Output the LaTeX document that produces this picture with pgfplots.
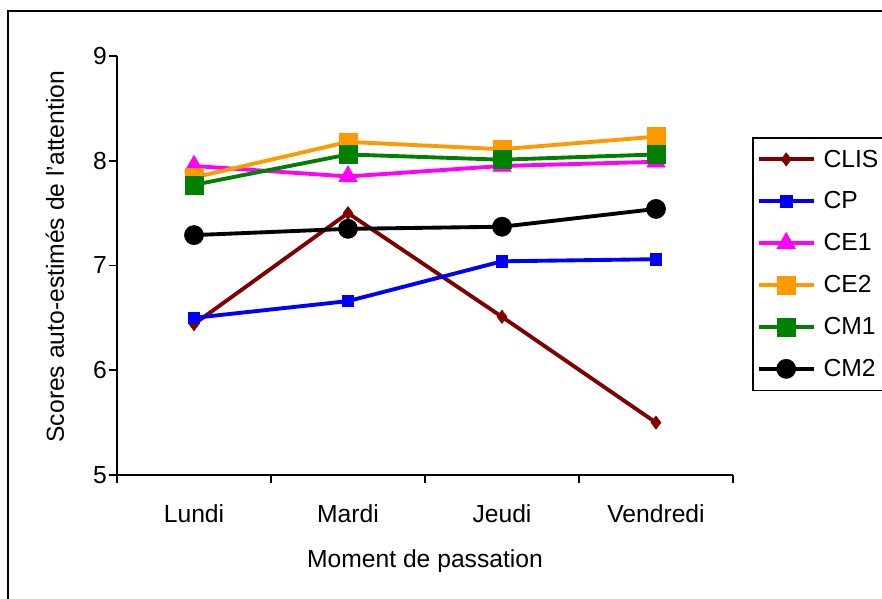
\documentclass[border=0pt]{standalone}
\usepackage{pgfplots}
\pgfplotsset{compat=1.18}
\usepackage{fontspec}
\setmainfont{Liberation Sans}
\definecolor{cclis}{HTML}{800000}
\definecolor{ccp}{HTML}{0000FF}
\definecolor{cce1}{HTML}{FF00FF}
\definecolor{cce2}{HTML}{FF9900}
\definecolor{ccm1}{HTML}{008000}
\definecolor{ccm2}{HTML}{000000}
\begin{document}
\begin{tikzpicture}
\useasboundingbox (0,0) rectangle (661.5pt,449.25pt);
\clip (0,0) rectangle (661.5pt,449.25pt);
\draw[line width=1.5pt] (6pt,-5pt) -- (6pt,441pt) -- (670pt,441pt);
\begin{axis}[
  scale only axis, width=462pt, height=314.25pt,
  at={(87.75pt,93pt)}, anchor=south west,
  xmin=-0.5, xmax=3.5, ymin=5, ymax=9,
  axis lines*=left,
  axis line style={line width=1.2pt},
  font=\fontsize{18.5}{22}\selectfont,
  /pgf/number format/assume math mode=true,
  xtick={-0.5,0.5,1.5,2.5,3.5}, xticklabels={},
  extra x ticks={0,1,2,3},
  extra x tick labels={Lundi,Mardi,Jeudi,Vendredi},
  extra x tick style={major tick length=0pt, tick label style={yshift=-19pt}},
  ytick={5,6,7,8,9},
  yticklabel style={xshift=2pt},
  tick align=outside,
  major tick length=6pt,
  every tick/.style={black, line width=1.2pt},
  xlabel={Moment de passation},
  ylabel={Scores auto-estimés de l'attention},
  xlabel style={at={(axis description cs:0.5,-0.206)}, anchor=center},
  ylabel style={at={(axis description cs:-0.1006,0.521)}, anchor=center},
  legend style={at={(axis description cs:1.0308,0.8067)}, anchor=north west,
    draw=black, line width=1.2pt, row sep=13pt, inner ysep=7pt,
    /tikz/every odd column/.append style={column sep=4pt},
    /tikz/every even column/.append style={text width=55pt}},
  legend cell align=left,
  legend image code/.code={\draw[mark repeat=2, mark phase=2, #1] plot coordinates {(0pt,0pt) (20.6pt,0pt) (41.2pt,0pt)};},
]
\addplot[color=cclis, line width=2.9pt, mark=diamond*, mark size=5pt, mark options={solid, line width=0.4pt}]
  coordinates {(0,6.44) (1,7.50) (2,6.51) (3,5.50)};
\addlegendentry{CLIS}
\addplot[color=ccp, line width=2.9pt, mark=square*, mark size=4.2pt, mark options={solid, line width=0.4pt}]
  coordinates {(0,6.50) (1,6.66) (2,7.04) (3,7.06)};
\addlegendentry{CP}
\addplot[color=cce1, line width=2.9pt, mark=triangle*, mark size=8pt, mark options={solid, line width=0.4pt}]
  coordinates {(0,7.95) (1,7.85) (2,7.95) (3,7.99)};
\addlegendentry{CE1}
\addplot[color=cce2, line width=2.9pt, mark=square*, mark size=6.8pt, mark options={solid, line width=0.4pt}]
  coordinates {(0,7.84) (1,8.18) (2,8.11) (3,8.23)};
\addlegendentry{CE2}
\addplot[color=ccm1, line width=2.9pt, mark=square*, mark size=6.8pt, mark options={solid, line width=0.4pt}]
  coordinates {(0,7.77) (1,8.06) (2,8.01) (3,8.06)};
\addlegendentry{CM1}
\addplot[color=ccm2, line width=2.9pt, mark=*, mark size=7.2pt, mark options={solid, line width=0.4pt}]
  coordinates {(0,7.29) (1,7.35) (2,7.37) (3,7.54)};
\addlegendentry{CM2}
\end{axis}
\end{tikzpicture}
\end{document}
